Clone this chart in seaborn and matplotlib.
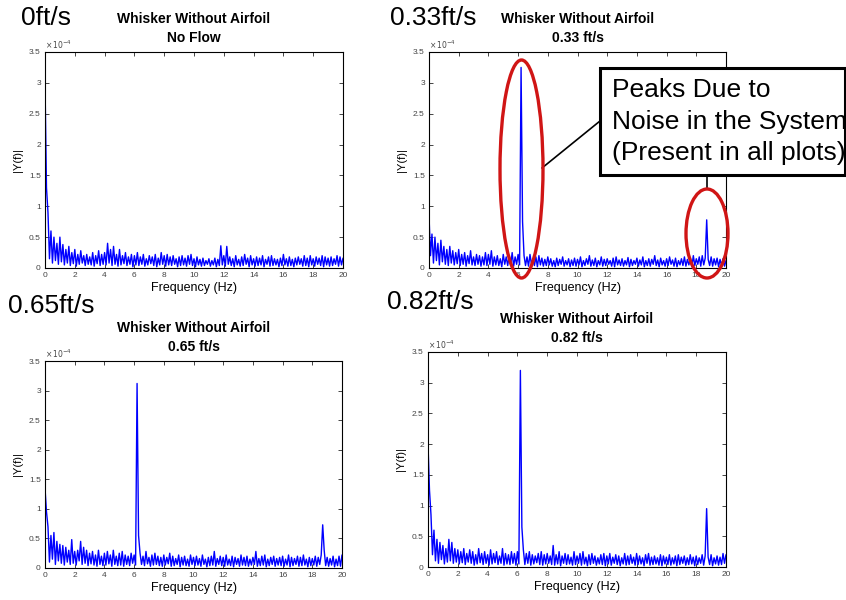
import numpy as np
import pandas as pd
import matplotlib
matplotlib.use("Agg")
import matplotlib.pyplot as plt
from matplotlib.patches import Ellipse, Rectangle
from matplotlib.lines import Line2D
import seaborn as sns

sns.set_style("ticks")
plt.rcParams["font.family"] = ["Liberation Sans", "DejaVu Sans"]
plt.rcParams["text.color"] = "black"
plt.rcParams["axes.labelcolor"] = "black"

# Spectra, in units of 1e-6.
# peaks: values at 0.0, 0.2, ..., 20.0 Hz ; troughs: values at 0.1, 0.3, ..., 19.9 Hz
peaks_0 = [300, 90, 60, 50, 40, 50, 38, 30, 35, 25,
           30, 22, 28, 20, 22, 18, 25, 20, 28, 22,
           25, 40, 30, 35, 22, 30, 20, 25, 18, 22,
           20, 25, 18, 22, 15, 20, 18, 22, 16, 25,
           20, 22, 18, 20, 15, 18, 20, 16, 20, 22,
           15, 18, 14, 16, 12, 15, 12, 16, 14, 36,
           20, 35, 18, 15, 20, 14, 18, 22, 16, 20,
           15, 18, 16, 20, 14, 18, 20, 15, 14, 16,
           22, 15, 18, 14, 16, 18, 15, 20, 16, 20,
           15, 18, 16, 20, 18, 16, 18, 15, 20, 18,
           16]
troughs_0 = [130, 15, 8, 12, 6, 10, 5, 8, 4, 7,
             3, 6, 8, 4, 6, 5, 3, 7, 4, 6,
             5, 8, 4, 6, 3, 5, 7, 4, 6, 2,
             5, 4, 6, 3, 5, 7, 4, 2, 5, 6,
             3, 5, 4, 6, 2, 4, 5, 3, 6, 4,
             2, 5, 3, 4, 6, 3, 5, 2, 4, 5,
             3, 6, 4, 2, 5, 3, 4, 6, 2, 5,
             3, 4, 5, 2, 6, 3, 4, 5, 2, 4,
             5, 3, 4, 2, 5, 6, 3, 4, 2, 5,
             3, 6, 4, 2, 5, 3, 4, 6, 3, 5]

peaks_33 = [85, 55, 50, 40, 45, 35, 30, 35, 28, 25,
            30, 22, 25, 20, 28, 18, 22, 20, 18, 25,
            22, 28, 18, 20, 15, 22, 18, 20, 25, 18,
            22, 325, 20, 18, 22, 15, 18, 20, 16, 14,
            18, 15, 12, 16, 14, 18, 12, 15, 13, 16,
            14, 18, 12, 15, 20, 13, 16, 12, 18, 14,
            15, 12, 16, 18, 13, 15, 12, 17, 14, 12,
            16, 13, 18, 12, 15, 14, 20, 13, 16, 12,
            15, 18, 13, 16, 12, 15, 18, 14, 16, 20,
            15, 18, 20, 16, 14, 18, 15, 16, 14, 15,
            12]
troughs_33 = [20, 8, 12, 5, 10, 6, 4, 8, 5, 7,
              4, 6, 3, 7, 5, 4, 6, 3, 5, 4,
              6, 3, 5, 4, 2, 6, 4, 5, 3, 6,
              5, 75, 4, 3, 6, 4, 2, 5, 3, 4,
              5, 3, 2, 4, 6, 3, 5, 2, 4, 3,
              5, 2, 4, 6, 3, 4, 2, 5, 3, 4,
              6, 3, 2, 5, 4, 3, 5, 2, 4, 6,
              3, 5, 2, 4, 3, 6, 4, 2, 5, 3,
              4, 6, 3, 2, 5, 4, 3, 5, 2, 4,
              6, 3, 5, 78, 4, 3, 5, 2, 4, 3]

peaks_65 = [135, 70, 55, 60, 45, 40, 38, 35, 30, 48,
            28, 30, 45, 35, 30, 25, 28, 22, 30, 20,
            25, 28, 22, 30, 20, 25, 28, 22, 20, 25,
            22, 312, 25, 20, 28, 18, 22, 25, 20, 18,
            22, 18, 25, 20, 16, 22, 18, 20, 15, 22,
            18, 20, 16, 22, 15, 18, 20, 28, 16, 20,
            18, 22, 15, 20, 18, 16, 22, 18, 20, 15,
            18, 28, 16, 20, 22, 15, 18, 20, 16, 18,
            20, 15, 22, 18, 16, 20, 18, 22, 15, 18,
            16, 20, 18, 22, 30, 18, 16, 20, 15, 20,
            22]
troughs_65 = [95, 10, 15, 6, 12, 8, 5, 10, 6, 8,
              5, 12, 6, 8, 4, 7, 5, 3, 6, 4,
              5, 7, 3, 6, 4, 5, 3, 6, 4, 8,
              5, 55, 6, 4, 7, 3, 5, 6, 4, 3,
              5, 7, 3, 4, 6, 2, 5, 4, 3, 6,
              4, 5, 3, 6, 2, 4, 5, 3, 6, 4,
              3, 5, 4, 2, 6, 3, 5, 4, 3, 5,
              6, 3, 4, 5, 2, 4, 6, 3, 5, 4,
              3, 5, 2, 4, 6, 3, 4, 5, 2, 4,
              5, 3, 6, 73, 4, 3, 5, 2, 4, 3]

peaks_82 = [200, 85, 60, 45, 40, 35, 30, 45, 40, 30,
            28, 25, 30, 22, 28, 25, 20, 30, 22, 25,
            20, 28, 22, 25, 18, 30, 22, 20, 25, 22,
            25, 320, 28, 22, 25, 20, 18, 22, 25, 20,
            22, 18, 35, 20, 25, 18, 22, 20, 16, 25,
            18, 22, 25, 16, 20, 22, 18, 15, 20, 22,
            18, 22, 16, 20, 18, 15, 22, 18, 20, 16,
            22, 18, 15, 20, 22, 16, 18, 15, 20, 18,
            16, 20, 15, 18, 20, 16, 18, 15, 20, 16,
            18, 15, 20, 18, 16, 20, 15, 18, 16, 22,
            20]
troughs_82 = [125, 20, 10, 6, 12, 5, 8, 10, 6, 8,
              5, 7, 4, 8, 6, 3, 5, 7, 4, 6,
              3, 5, 7, 4, 6, 3, 5, 4, 6, 3,
              5, 65, 4, 6, 3, 5, 7, 4, 3, 5,
              6, 4, 3, 5, 2, 6, 4, 5, 3, 4,
              6, 3, 5, 2, 4, 6, 3, 5, 4, 2,
              5, 3, 6, 4, 2, 5, 3, 4, 6, 3,
              4, 5, 2, 6, 3, 4, 5, 3, 2, 5,
              4, 3, 5, 2, 4, 6, 3, 4, 5, 2,
              4, 6, 3, 95, 4, 2, 5, 3, 4, 6]

speed_labels = ["0ft/s", "0.33ft/s", "0.65ft/s", "0.82ft/s"]
subtitles = ["No Flow", "0.33 ft/s", "0.65 ft/s", "0.82 ft/s"]
x_ticks = [0, 2, 4, 6, 8, 10, 12, 14, 16, 18, 20]
y_ticks = [0, 0.5, 1, 1.5, 2, 2.5, 3, 3.5]
y_ticklabels = ["0", "0.5", "1", "1.5", "2", "2.5", "3", "3.5"]
note_lines = ["Peaks Due to", "Noise in the System", "(Present in all plots)"]

spectra = [(peaks_0, troughs_0), (peaks_33, troughs_33),
           (peaks_65, troughs_65), (peaks_82, troughs_82)]

W, H = 846, 600
fig = plt.figure(figsize=(W / 100, H / 100), dpi=100)
fig.patch.set_facecolor("white")


def fx(px):
    return px / W


def fy(py):
    return 1 - py / H


# axes boxes in pixels: left, top, right, bottom
boxes = [(45, 52, 343, 268), (429, 52, 726, 268),
         (45, 361, 342, 568), (428, 352, 726, 567)]
big_label_pos = [(21, 18), (390, 18), (8, 306), (387, 302)]

for i, ((pk, tr), (l, t, r, b)) in enumerate(zip(spectra, boxes)):
    ax = fig.add_axes([fx(l), fy(b), fx(r - l), (b - t) / H])
    amp = np.empty(len(pk) + len(tr))
    amp[0::2] = pk
    amp[1::2] = tr
    freq = np.round(np.arange(len(amp)) * 0.1, 1)
    # plot in units of 1e-4
    df = pd.DataFrame({"freq": freq, "amp": amp / 100.0})
    sns.lineplot(data=df, x="freq", y="amp", ax=ax, color="#0000ff",
                 lw=1.0, sort=False, estimator=None)
    ax.set_xlim(0, 20)
    ax.set_ylim(0, 3.5)
    ax.set_xticks(x_ticks)
    ax.set_yticks(y_ticks)
    ax.set_yticklabels(y_ticklabels)
    ax.tick_params(direction="in", length=3, width=0.6, labelsize=6,
                   labelcolor="#444444", top=True, right=True, pad=3)
    for s in ax.spines.values():
        s.set_linewidth(0.8)
        s.set_color("black")
    ax.set_xlabel("Frequency (Hz)", fontsize=9, labelpad=2)
    ax.set_ylabel("|Y(f)|", fontsize=8, labelpad=4)
    ax.text(0.0, 1.005, r"$\times\,10^{-4}$", transform=ax.transAxes,
            fontsize=5.5, color="#444444", ha="left", va="bottom")
    ax.set_title("Whisker Without Airfoil\n" + subtitles[i], fontsize=10,
                 fontweight="bold", pad=7, linespacing=1.45)
    bx, by = big_label_pos[i]
    fig.text(fx(bx), fy(by), speed_labels[i], fontsize=19,
             ha="left", va="center")

# annotation box
fig.add_artist(Rectangle((fx(600), fy(175)), fx(845 - 600), (175 - 68) / H,
                         transform=fig.transFigure, fill=True,
                         facecolor="white", edgecolor="black", lw=2.2,
                         zorder=5))
for k, line in enumerate(note_lines):
    fig.text(fx(612), fy(90 + 31.5 * k), line, fontsize=19,
             ha="left", va="center", zorder=6)

# connectors and red ellipses
fig.add_artist(Line2D([fx(542), fx(600)], [fy(168), fy(121)],
                      transform=fig.transFigure, color="black", lw=1.2))
fig.add_artist(Line2D([fx(707), fx(707)], [fy(175), fy(189)],
                      transform=fig.transFigure, color="black", lw=1.2))
fig.add_artist(Ellipse((fx(521.5), fy(169)), fx(43), 218 / H,
                       transform=fig.transFigure, fill=False,
                       edgecolor="#d01515", lw=2.4, zorder=7))
fig.add_artist(Ellipse((fx(707), fy(233.5)), fx(42), 89 / H,
                       transform=fig.transFigure, fill=False,
                       edgecolor="#d01515", lw=2.4, zorder=7))

fig.savefig("out.png", dpi=100)
